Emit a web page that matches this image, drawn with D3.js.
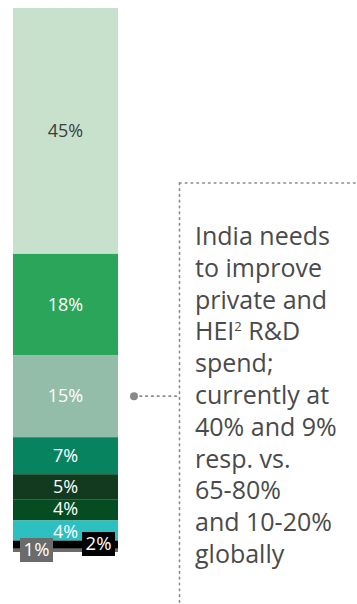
<!DOCTYPE html>
<html>
<head>
<meta charset="utf-8">
<script src="https://cdn.jsdelivr.net/npm/d3@7"></script>
<style>
  html, body { margin: 0; padding: 0; background: #fff; }
  svg { display: block; }
  text { font-family: "Open Sans", "Noto Sans", sans-serif; }
</style>
</head>
<body>
<svg id="chart" width="357" height="604"></svg>
<script>
// ---- data ----
const segments = ["Seg1", "Seg2", "Seg3", "Seg4", "Seg5", "Seg6", "Seg7", "Seg8", "Seg9"];
const values   = [45.2, 18.6, 15.1, 6.8, 4.6, 3.9, 3.7, 1.5, 0.6];
const labels   = ["45%", "18%", "15%", "7%", "5%", "4%", "4%", "2%", "1%"];
const colors   = ["#c8e1cc", "#2aa55a", "#93bda9", "#07845f", "#123a1e", "#064c22", "#2dc0c0", "#000000", "#6b6b6b"];
const noteLines = ["India needs", "to improve", "private and", "HEI\u00b2 R&D", "spend;", "currently at", "40% and 9%", "resp. vs.", "65-80%", "and 10-20%", "globally"];
const pointedSegment = 2; // annotation dot points at 15%

const svg = d3.select("#chart");
const total = d3.sum(values);

const x = d3.scaleBand().domain(["India"]).range([13, 118]).padding(0);
// first segment at the top
const y = d3.scaleLinear().domain([0, total]).range([8, 552]);

let cum = 0;
const stack = values.map((v, i) => {
  const s = { i, v, y0: cum, y1: cum + v, label: labels[i], color: colors[i] };
  cum += v;
  return s;
});

const g = svg.append("g");
g.selectAll("rect.seg").data(stack).enter().append("rect")
  .attr("class", "seg")
  .attr("x", x("India"))
  .attr("width", x.bandwidth())
  .attr("y", d => y(d.y0))
  .attr("height", d => y(d.y1) - y(d.y0))
  .attr("fill", d => d.color);

const cx = x("India") + x.bandwidth() / 2;
const nudge = [0, 0, 0, 0, 0, -1, 1, 0, 0];
g.selectAll("text.lab").data(stack.slice(0, 7)).enter().append("text")
  .attr("class", "lab")
  .attr("x", cx)
  .attr("y", d => (y(d.y0) + y(d.y1)) / 2 + nudge[d.i])
  .attr("dy", "0.35em")
  .attr("text-anchor", "middle")
  .attr("font-size", 18)
  .attr("fill", d => d.i === 0 ? "#3d3d3d" : "#ffffff")
  .text(d => d.label);

// small segment callout boxes
const small = [
  { d: stack[7], cx: 98.5, cy: 544 },
  { d: stack[8], cx: 36.5, cy: 550 }
];
small.forEach(s => {
  g.append("rect")
    .attr("x", s.cx - 16.5).attr("y", s.cy - 12)
    .attr("width", 33).attr("height", 24)
    .attr("fill", s.d.color);
  g.append("text")
    .attr("x", s.cx).attr("y", s.cy).attr("dy", "0.35em")
    .attr("text-anchor", "middle").attr("font-size", 18.5)
    .attr("fill", "#fff").text(s.d.label);
});

// annotation
const pd = stack[pointedSegment];
const py = (y(pd.y0) + y(pd.y1)) / 2;
const lineX = 179.5;
const dotted = { stroke: "#8a8a8a", "stroke-width": 1.6, "stroke-dasharray": "1.6,4.2", "stroke-linecap": "round" };
function applyStyle(sel, st) { Object.entries(st).forEach(([k, v]) => sel.attr(k, v)); return sel; }

svg.append("circle").attr("cx", 134).attr("cy", py).attr("r", 4).attr("fill", "#8a8a8a");
applyStyle(svg.append("line").attr("x1", 140).attr("x2", lineX).attr("y1", py).attr("y2", py), dotted);
applyStyle(svg.append("line").attr("x1", lineX).attr("x2", lineX).attr("y1", 183).attr("y2", 604), dotted);
applyStyle(svg.append("line").attr("x1", lineX).attr("x2", 357).attr("y1", 183).attr("y2", 183), dotted);

const note = svg.append("text")
  .attr("x", 195)
  .attr("font-size", 25)
  .attr("fill", "#4a4a4a");
noteLines.forEach((ln, i) => {
  const ts = note.append("tspan").attr("x", 195).attr("y", 245 + i * 31.8);
  if (ln.includes("\u00b2")) {
    const parts = ln.split("\u00b2");
    ts.text(parts[0]);
    note.append("tspan").attr("dy", -9).attr("font-size", 13).text("2");
    note.append("tspan").attr("dy", 9).text(parts[1]);
  } else {
    ts.text(ln);
  }
});
</script>
</body>
</html>
